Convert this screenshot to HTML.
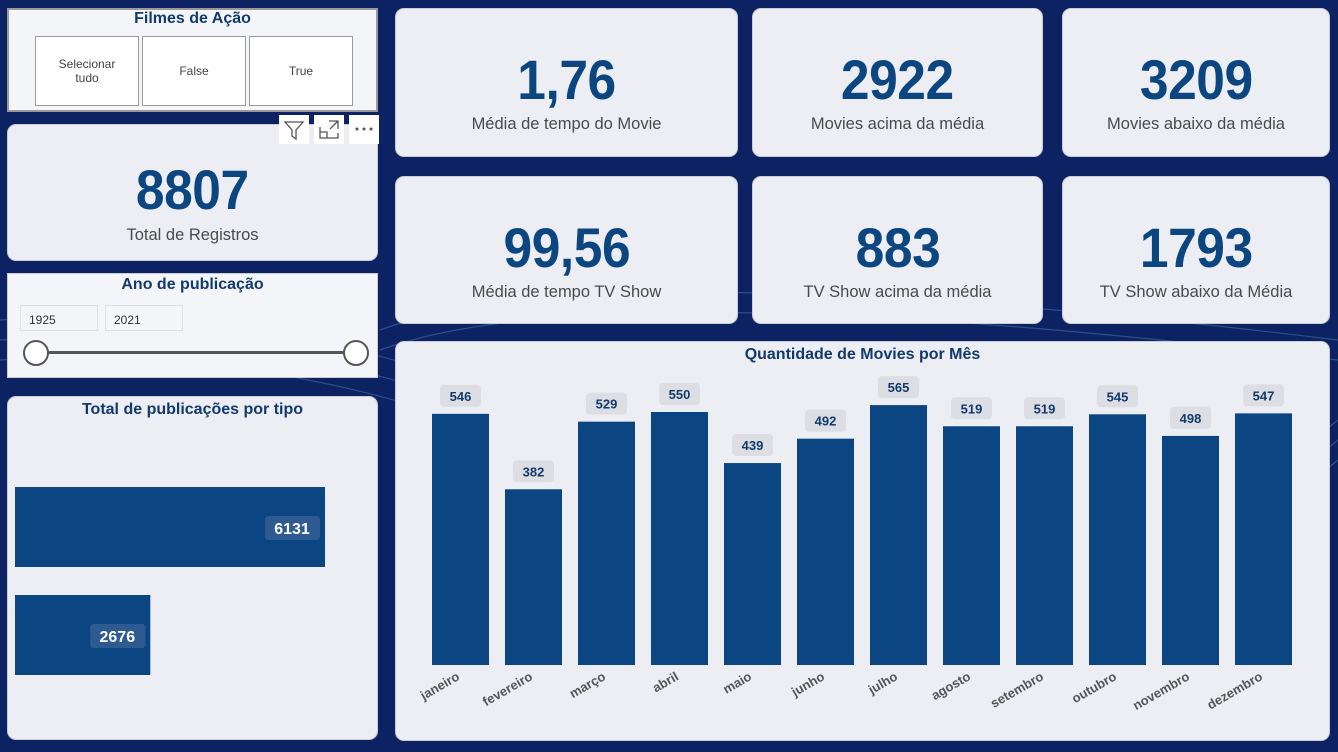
<!DOCTYPE html>
<html><head><meta charset="utf-8">
<style>
*{box-sizing:border-box;margin:0;padding:0}
body{width:1338px;height:752px;overflow:hidden;background:#0d2262;font-family:"Liberation Sans",sans-serif;position:relative}
.p{position:absolute;background:#eceef3;border-radius:9px;border:1px solid #c9ccd6}
.kpi .n{position:absolute;left:0;right:0;text-align:center;font-weight:bold;color:#0c4680;font-size:56px;top:41px;line-height:60px}
.kpi .n span{display:inline-block;transform:scaleX(0.92);letter-spacing:-0.5px}
.kpi .l{position:absolute;left:0;right:0;text-align:center;color:#4a4a4a;font-size:16.5px;top:106px}
.t{position:absolute;left:0;right:0;text-align:center;font-weight:bold;color:#123a6b;font-size:16px}
.btn{position:absolute;top:26px;width:104px;height:70px;background:#fff;border:1px solid #9a9a9a;display:flex;align-items:center;justify-content:center;text-align:center;font-size:12px;color:#444}
.ic{position:absolute;top:0;width:30px;height:29px;background:#fff}
</style></head><body>
<svg style="position:absolute;left:0;top:0" width="1338" height="752">
<g fill="none" stroke="#5fa8d8" stroke-opacity="0.35" stroke-width="1.2">
<path d="M0 320 Q400 300 700 500 T1338 420"/><path d="M0 340 Q400 320 700 520 T1338 440"/><path d="M0 360 Q400 340 700 540 T1338 460"/><path d="M380 330 Q600 250 1338 340"/><path d="M380 350 Q600 270 1338 360"/>
</g></svg>

<div class="p" style="left:7px;top:8px;width:371px;height:104px;background:#f4f5f8;border-radius:0;border:2px solid #999">
<div class="t" style="top:0px">Filmes de Ação</div>
<div class="btn" style="left:26px">Selecionar<br>tudo</div>
<div class="btn" style="left:133px">False</div>
<div class="btn" style="left:240px">True</div>
</div>

<div class="p kpi" style="left:7px;top:124px;width:371px;height:137px;border-radius:9px">
<div class="n" style="top:35px"><span>8807</span></div><div class="l" style="top:101px">Total de Registros</div></div>

<div style="position:absolute;left:279px;top:115px;width:100px;height:29px">
<div class="ic" style="left:0"><svg width="30" height="29"><path d="M6 7 H24 L17 15 V24 L13 21 V15 Z" fill="none" stroke="#555" stroke-width="1.3"/></svg></div>
<div class="ic" style="left:35px"><svg width="30" height="29"><path d="M6 12 V23 H24 V18 M6 17 H13 V23 M15 6 H24 V14 M24 6 L16 14" fill="none" stroke="#555" stroke-width="1.3"/></svg></div>
<div class="ic" style="left:70px"><svg width="30" height="29"><circle cx="8" cy="14" r="1.5" fill="#555"/><circle cx="15" cy="14" r="1.5" fill="#555"/><circle cx="22" cy="14" r="1.5" fill="#555"/></svg></div>
</div>

<div class="p" style="left:7px;top:273px;width:371px;height:105px;background:#f4f5f8;border-radius:0">
<div class="t" style="top:2px">Ano de publicação</div>
<div style="position:absolute;left:12px;top:31px;width:78px;height:26px;border:1px solid #e0e0e0;font-size:12px;padding:7px 8px;color:#333">1925</div>
<div style="position:absolute;left:97px;top:31px;width:78px;height:26px;border:1px solid #e0e0e0;font-size:12px;padding:7px 8px;color:#333">2021</div>
<div style="position:absolute;left:28px;top:77px;width:320px;height:3px;background:#555"></div>
<div style="position:absolute;left:15px;top:66px;width:26px;height:26px;border-radius:50%;background:#fff;border:2px solid #555"></div>
<div style="position:absolute;left:335px;top:66px;width:26px;height:26px;border-radius:50%;background:#fff;border:2px solid #555"></div>
</div>

<div class="p" style="left:7px;top:396px;width:371px;height:344px">
<div class="t" style="top:4px">Total de publicações por tipo</div>
<svg id="hb" style="position:absolute;left:-8px;top:-397px" width="390" height="752"></svg>
</div>

<div class="p kpi" style="left:395px;top:8px;width:343px;height:149px"><div class="n"><span>1,76</span></div><div class="l">Média de tempo do Movie</div></div>
<div class="p kpi" style="left:752px;top:8px;width:291px;height:149px"><div class="n"><span>2922</span></div><div class="l">Movies acima da média</div></div>
<div class="p kpi" style="left:1062px;top:8px;width:268px;height:149px"><div class="n"><span>3209</span></div><div class="l">Movies abaixo da média</div></div>
<div class="p kpi" style="left:395px;top:176px;width:343px;height:148px"><div class="n"><span>99,56</span></div><div class="l">Média de tempo TV Show</div></div>
<div class="p kpi" style="left:752px;top:176px;width:291px;height:148px"><div class="n"><span>883</span></div><div class="l">TV Show acima da média</div></div>
<div class="p kpi" style="left:1062px;top:176px;width:268px;height:148px"><div class="n"><span>1793</span></div><div class="l">TV Show abaixo da Média</div></div>

<div class="p" style="left:395px;top:341px;width:935px;height:400px">
<div class="t" style="top:4px">Quantidade de Movies por Mês</div>
</div>
<svg id="vb" style="position:absolute;left:0;top:0" width="1338" height="752"></svg>

<script>
const months=["janeiro","fevereiro","março","abril","maio","junho","julho","agosto","setembro","outubro","novembro","dezembro"];
const monthValues=[546,382,529,550,439,492,565,519,519,545,498,547];
const types=["Movie","TV Show"];
const typeValues=[6131,2676];
const NS="http://www.w3.org/2000/svg";
function mk(p,t,a){const e=document.createElementNS(NS,t);for(const k in a)e.setAttribute(k,a[k]);p.appendChild(e);return e;}
const vb=document.getElementById('vb');
const base=665,ys=v=>base-v*0.46,xs=i=>432+i*73,bw=57;
monthValues.forEach((v,i)=>{
 const x=xs(i),y=ys(v);
 const r=mk(vb,'rect',{x:x,y:y,width:bw,height:base-y,fill:'#0b4683'});
 
 
 const lb=mk(vb,'rect',{x:x+8,y:y-29,width:41,height:22,rx:4,fill:'#dcdee3'});
 
 
 const t=mk(vb,'text',{x:x+bw/2,y:y-13,'text-anchor':'middle','font-size':13,'font-weight':'bold',fill:'#123a6b','font-family':'Liberation Sans, sans-serif'});
 t.textContent=v;
 
 
 const lx=x+bw/2,ly=base+14;
 const m=mk(vb,'text',{x:lx,y:ly,'text-anchor':'end','font-size':13,'font-weight':'bold',fill:'#555','font-family':'Liberation Sans, sans-serif',transform:`rotate(-30 ${lx} ${ly})`});
 m.textContent=months[i];
 
 
});
const hb=document.getElementById('hb');
const hx=v=>15+v*(310/6131);
typeValues.forEach((v,i)=>{
 const y=487+i*108,w=hx(v)-15;
 const r=mk(hb,'rect',{x:15,y:y,width:w,height:80,fill:'#0b4683'});
 
 
 const lb=mk(hb,'rect',{x:15+w-60,y:y+29,width:55,height:24,rx:3,fill:'#2d5a90'});
 
 
 const t=mk(hb,'text',{x:15+w-33,y:y+47,'text-anchor':'middle','font-size':16,'font-weight':'bold',fill:'#fff','font-family':'Liberation Sans, sans-serif'});
 t.textContent=v;
 
 
});
</script>
</body></html>
